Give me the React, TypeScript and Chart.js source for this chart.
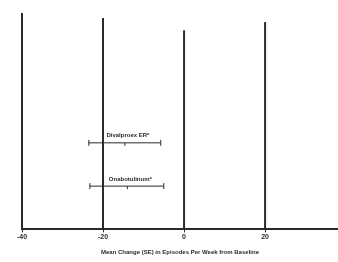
import React, { useEffect, useRef } from "react";
import { Chart, registerables } from "chart.js";

Chart.register(...registerables);

const xTicks = [-40, -20, 0, 20];
const refLineX = [-40, -20, 0, 20];
const refLineTop = [100, 97.7, 92, 95.8];
const treatments = ["Divalproex ER*", "Onabotulinum*"];
const means = [-14.6, -14];
const lows = [-23.5, -23.25];
const highs = [-5.75, -5];
const rowY = [40, 20];
const xTitle = "Mean Change (SE) in Episodes Per Week from Baseline";

const INK = "#2a2a2a";

const errorBarPlugin = {
  id: "errorBars",
  afterDatasetsDraw(chart: any) {
    const { ctx, scales } = chart;
    const xs = scales.x;
    const ys = scales.y;
    ctx.save();
    ctx.strokeStyle = INK;
    ctx.fillStyle = INK;
    ctx.lineWidth = 1;
    for (let i = 0; i < treatments.length; i++) {
      const y = ys.getPixelForValue(rowY[i]);
      const x1 = xs.getPixelForValue(lows[i]);
      const x2 = xs.getPixelForValue(highs[i]);
      const xm = xs.getPixelForValue(means[i]);
      ctx.beginPath();
      ctx.moveTo(x1, y);
      ctx.lineTo(x2, y);
      ctx.moveTo(x1, y - 3);
      ctx.lineTo(x1, y + 3);
      ctx.moveTo(x2, y - 3);
      ctx.lineTo(x2, y + 3);
      ctx.moveTo(xm, y);
      ctx.lineTo(xm, y + 3);
      ctx.stroke();
      ctx.font = "bold 6px 'Liberation Sans', Arial, sans-serif";
      ctx.textAlign = "center";
      ctx.textBaseline = "bottom";
      ctx.fillText(treatments[i], xm + 3, y - 4);
    }
    ctx.restore();
  },
};

export default function App() {
  const ref = useRef<HTMLCanvasElement>(null);
  useEffect(() => {
    if (!ref.current) return;
    const datasets = refLineX.map((x, i) => ({
      data: [
        { x, y: 0 },
        { x, y: refLineTop[i] },
      ],
      borderColor: INK,
      borderWidth: 2,
      pointRadius: 0,
      showLine: true,
      clip: false as any,
    }));
    const chart = new Chart(ref.current, {
      type: "scatter",
      data: { datasets },
      options: {
        animation: false,
        responsive: false,
        layout: { padding: { left: 22, right: 0, top: 13, bottom: 6 } },
        plugins: { legend: { display: false }, tooltip: { enabled: false } },
        scales: {
          x: {
            type: "linear",
            min: -40,
            max: 38,
            afterBuildTicks: (s: any) => {
              s.ticks = xTicks.map((v) => ({ value: v }));
            },
            grid: {
              drawOnChartArea: false,
              drawTicks: true,
              tickLength: 3,
              color: INK,
            },
            border: { color: INK, width: 2 },
            ticks: {
              color: INK,
              padding: 0,
              font: { size: 7, weight: "bold", family: "'Liberation Sans', Arial, sans-serif" },
            },
            title: {
              display: true,
              text: xTitle,
              color: INK,
              padding: { top: 8, bottom: 0 },
              font: { size: 6, weight: "bold", family: "'Liberation Sans', Arial, sans-serif" },
            },
          },
          y: { type: "linear", min: 0, max: 100, display: false },
        },
      },
      plugins: [errorBarPlugin],
    });
    return () => chart.destroy();
  }, []);
  return (
    <div style={{ position: "absolute", left: 0, top: 0, width: 338, height: 262, background: "#fff" }}>
      <canvas ref={ref} width={338} height={262} />
    </div>
  );
}
